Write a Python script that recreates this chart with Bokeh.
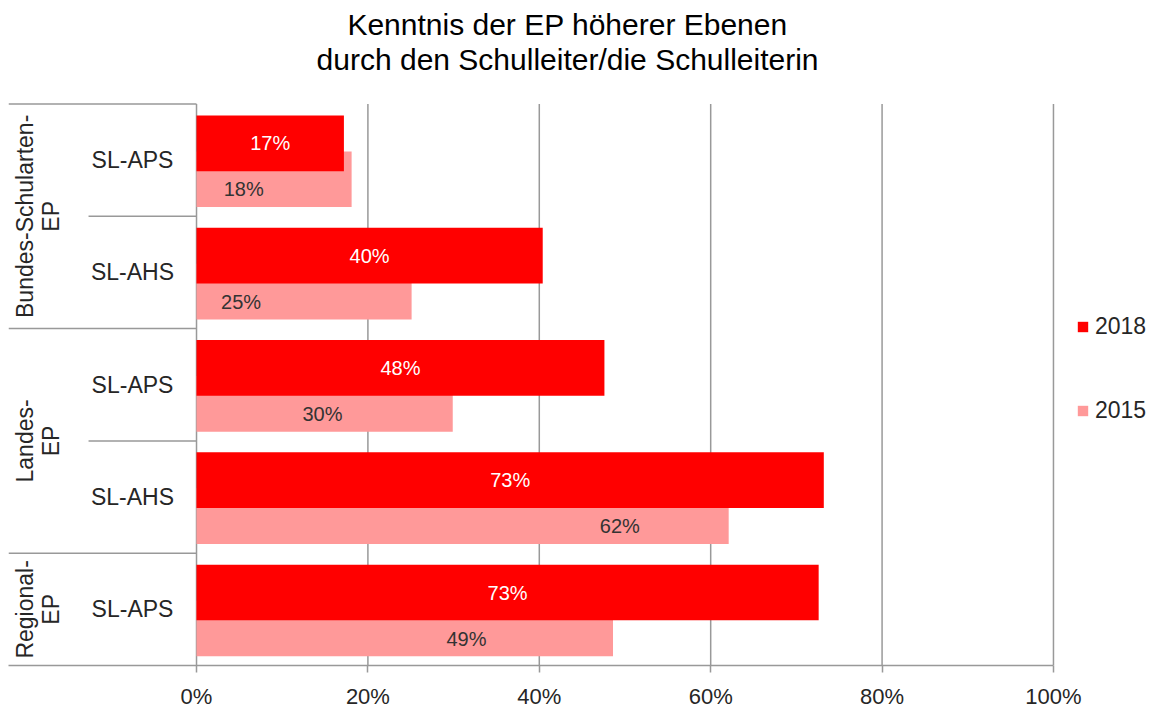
import math
from bokeh.plotting import figure
from bokeh.models import (ColumnDataSource, FixedTicker, NumeralTickFormatter,
                          Label, Legend, LegendItem, Range1d)
from bokeh.core.properties import value
from bokeh.embed import file_html
from bokeh.resources import INLINE

# ---------------- data ----------------
title_text = "Kenntnis der EP höherer Ebenen\ndurch den Schulleiter/die Schulleiterin"
groups = ["Bundes-Schularten-\nEP", "Landes-\nEP", "Regional-\nEP"]
group_sizes = [2, 2, 1]
subcategories = ["SL-APS", "SL-AHS", "SL-APS", "SL-AHS", "SL-APS"]
series_names = ["2018", "2015"]
values_2018 = [0.172, 0.404, 0.476, 0.732, 0.726]
values_2015 = [0.181, 0.251, 0.299, 0.621, 0.486]
x_ticks = [0.0, 0.2, 0.4, 0.6, 0.8, 1.0]

# placement of the 2015 data labels (as in the original chart)
label_x_2015 = [0.055, 0.052, 0.147, 0.494, 0.315]

# ---------------- style / layout ----------------
FONT = "Liberation Sans"
C2018 = "#FF0000"
C2015 = "#FF9999"
GRID = "#999999"
TXT = "#262626"

n = len(subcategories)
X0 = -0.2194          # left edge of the label area (axis units)
X1 = 1.1144           # right edge of the drawing area (room for the legend)
Y_TOP = -0.922        # room above the first category for the title
SUB_SEP_X = -0.126
SUB_LABEL_X = -0.0747
GROUP_LABEL_X = -0.1855

p = figure(width=1151, height=711, output_backend="svg", toolbar_location=None,
           x_range=Range1d(X0, X1), y_range=Range1d(n, Y_TOP),
           y_axis_location=None, min_border_left=8, min_border_right=0,
           min_border_top=0, min_border_bottom=43)
p.outline_line_color = None
p.background_fill_color = "white"
p.border_fill_color = "white"
p.grid.visible = False

# x axis
ax = p.xaxis[0]
ax.ticker = FixedTicker(ticks=x_ticks)
ax.formatter = NumeralTickFormatter(format="0%")
ax.bounds = (X0, x_ticks[-1])
ax.axis_line_color = GRID
ax.axis_line_width = 1.5
ax.major_tick_line_color = GRID
ax.major_tick_line_width = 1.5
ax.major_tick_out = 7
ax.major_tick_in = 0
ax.minor_tick_line_color = None
ax.major_label_standoff = 11
ax.major_label_text_font = FONT
ax.major_label_text_font_size = "22px"
ax.major_label_text_color = TXT

# vertical grid lines at the axis ticks, spanning the categories only
p.segment(x0=x_ticks, x1=x_ticks, y0=[0] * len(x_ticks), y1=[n] * len(x_ticks),
          line_color=GRID, line_width=1.5)

# bars
idx = list(range(n))
src = ColumnDataSource(dict(
    y18=[i + 0.35 for i in idx], y15=[i + 0.67 for i in idx],
    v18=values_2018, v15=values_2015,
    mid18=[v / 2 for v in values_2018], lx15=label_x_2015,
    ly15=[i + 0.76 for i in idx],
    t18=[f"{v*100:.0f}%" for v in values_2018],
    t15=[f"{v*100:.0f}%" for v in values_2015],
))
r15 = p.hbar(y="y15", left=0, right="v15", height=0.496, source=src,
             fill_color=C2015, line_color=None)
r18 = p.hbar(y="y18", left=0, right="v18", height=0.496, source=src,
             fill_color=C2018, line_color=None)

p.text(x="mid18", y="y18", text="t18", source=src, text_color="white",
       text_font=value(FONT), text_font_size="20px", text_align="center",
       text_baseline="middle")
p.text(x="lx15", y="ly15", text="t15", source=src, text_color="#333333",
       text_font=value(FONT), text_font_size="20px", text_align="center",
       text_baseline="middle")

# category separators and labels
bounds = [0]
for s in group_sizes:
    bounds.append(bounds[-1] + s)
group_bounds = bounds[:-1]
sub_bounds = [b for b in range(1, n) if b not in bounds]
p.segment(x0=[X0] * len(group_bounds), x1=[0] * len(group_bounds),
          y0=group_bounds, y1=group_bounds, line_color=GRID, line_width=1.5)
p.segment(x0=[SUB_SEP_X] * len(sub_bounds), x1=[0] * len(sub_bounds),
          y0=sub_bounds, y1=sub_bounds, line_color=GRID, line_width=1.5)

p.text(x=[SUB_LABEL_X] * n, y=[i + 0.5 for i in idx], text=subcategories,
       text_color=TXT, text_font=value(FONT), text_font_size="23px",
       text_align="center", text_baseline="middle")
gcent = [(bounds[k] + bounds[k + 1]) / 2 for k in range(len(groups))]
p.text(x=[GROUP_LABEL_X] * len(groups), y=gcent, text=groups, angle=math.pi / 2,
       text_color=TXT, text_font=value(FONT), text_font_size="23px",
       text_align="center", text_baseline="middle", text_line_height=1.0)

# legend
legend = Legend(items=[LegendItem(label=series_names[0], renderers=[r18]),
                       LegendItem(label=series_names[1], renderers=[r15])],
                location=(1068, 241), orientation="vertical",
                glyph_width=13, glyph_height=13, label_standoff=6,
                label_height=25, spacing=57, padding=0, margin=0,
                border_line_color=None, background_fill_alpha=0,
                label_text_font=FONT, label_text_font_size="23px",
                label_text_color=TXT)
p.add_layout(legend, "center")

# title
title = Label(x=0.433, y=-0.554, text=title_text,
              text_font=FONT, text_font_size="30px", text_color="black",
              text_align="center", text_baseline="middle", text_line_height=1.05)
p.add_layout(title)

open("out.html", "w").write(file_html(p, INLINE))
